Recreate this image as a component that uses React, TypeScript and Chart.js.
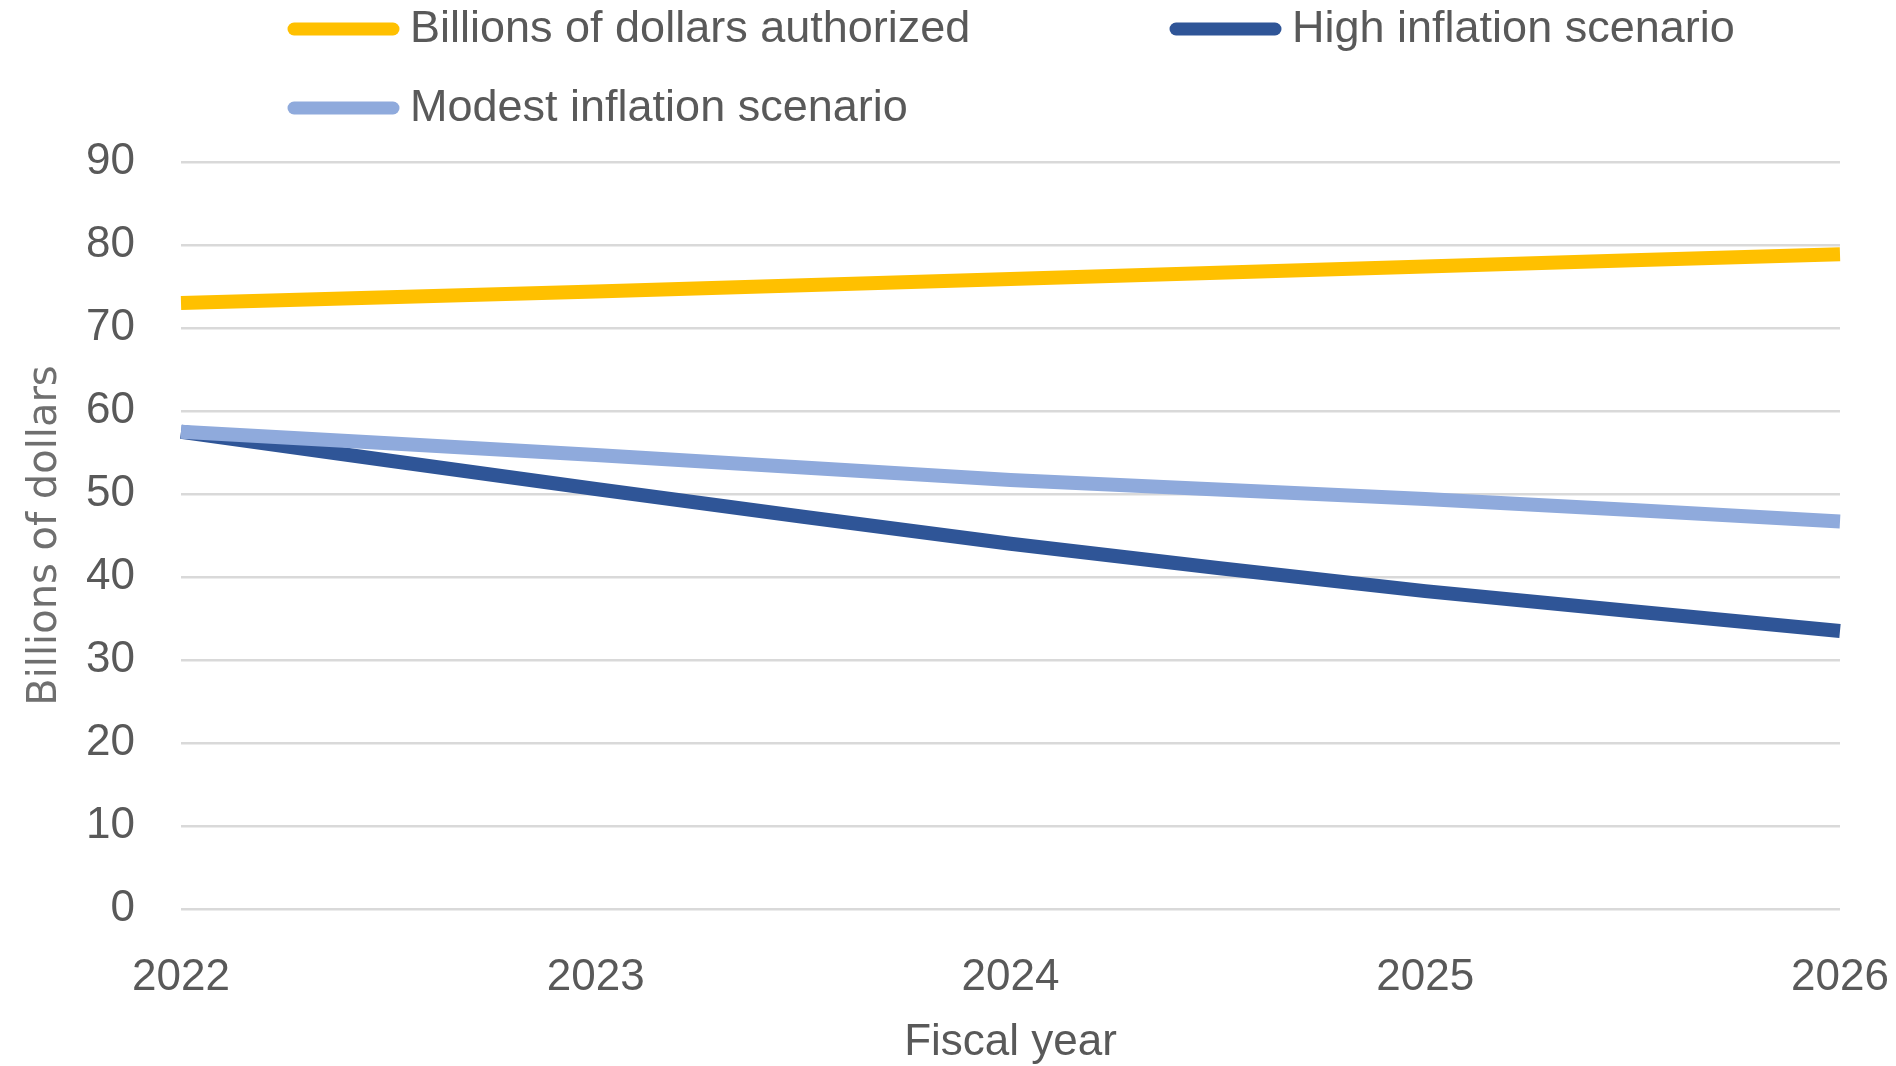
import React, { useEffect, useRef } from "react";
import { Chart, registerables } from "chart.js";

Chart.register(...registerables);

// ---- data ----
const fiscalYears = ["2022", "2023", "2024", "2025", "2026"];
const authorizedBillions = [73.0, 74.4, 75.9, 77.4, 78.9];
const highInflationBillions = [57.5, 50.6, 44.0, 38.3, 33.5];
const modestInflationBillions = [57.5, 54.7, 51.7, 49.4, 46.7];
const seriesNames = [
  "Billions of dollars authorized",
  "High inflation scenario",
  "Modest inflation scenario",
];
const seriesColors = ["#FFC000", "#2F5597", "#8FAADC"];
const yAxisMin = 0;
const yAxisMax = 90;
const yAxisStep = 10;
const yAxisTitle = "Billions of dollars";
const xAxisTitle = "Fiscal year";

// ---- style / layout ----
const TEXT_COLOR = "#595959";
const GRID_COLOR = "#D9D9D9";
const MAIN_FONT = "'Liberation Sans', Arial, sans-serif";
const LEGEND_COLS = [288, 1170];
const LEGEND_ROWS = [29, 108];
const LEGEND_SWATCH = 111;
const LEGEND_GAP = 11;
const Y_AXIS_WIDTH = 181;
const X_AXIS_HEIGHT = 157;

const excelLegend = {
  id: "excelLegend",
  afterDraw(chart: any) {
    const ctx = chart.ctx;
    ctx.save();
    chart.data.datasets.forEach((ds: any, i: number) => {
      const col = i % 2;
      const row = Math.floor(i / 2);
      const x = LEGEND_COLS[col];
      const y = LEGEND_ROWS[row];
      ctx.strokeStyle = ds.borderColor;
      ctx.lineWidth = 13;
      ctx.lineCap = "round";
      ctx.beginPath();
      ctx.moveTo(x + 6, y);
      ctx.lineTo(x + LEGEND_SWATCH - 6, y);
      ctx.stroke();
      ctx.fillStyle = TEXT_COLOR;
      ctx.font = `45px ${MAIN_FONT}`;
      ctx.textBaseline = "middle";
      ctx.textAlign = "left";
      ctx.fillText(ds.label, x + LEGEND_SWATCH + LEGEND_GAP, y + 1);
    });
    ctx.restore();
  },
};

export default function App() {
  const canvasRef = useRef<HTMLCanvasElement | null>(null);

  useEffect(() => {
    if (!canvasRef.current) return;
    const mk = (i: number, data: number[], order: number) => ({
      label: seriesNames[i],
      data,
      borderColor: seriesColors[i],
      backgroundColor: seriesColors[i],
      borderWidth: 14,
      pointRadius: 0,
      tension: 0.2,
      fill: false,
      order,
    });
    const chart = new Chart(canvasRef.current, {
      type: "line",
      data: {
        labels: fiscalYears,
        datasets: [
          mk(0, authorizedBillions, 0),
          mk(1, highInflationBillions, 2),
          mk(2, modestInflationBillions, 1),
        ],
      },
      options: {
        animation: false,
        responsive: true,
        maintainAspectRatio: false,
        layout: { padding: { top: 162, right: 56, bottom: 0, left: 0 } },
        plugins: {
          legend: { display: false },
          tooltip: { enabled: false },
        },
        scales: {
          x: {
            grid: { display: false, drawTicks: false },
            border: { display: false },
            ticks: {
              color: TEXT_COLOR,
              font: { family: MAIN_FONT, size: 44 },
              padding: 42,
              maxRotation: 0,
            },
            title: {
              display: true,
              text: xAxisTitle,
              color: TEXT_COLOR,
              font: { family: MAIN_FONT, size: 44 },
              padding: { top: 10, bottom: -3 },
            },
            afterFit: (scale: any) => {
              scale.height = X_AXIS_HEIGHT;
              scale.paddingLeft = 0;
              scale.paddingRight = 0;
            },
          },
          y: {
            min: yAxisMin,
            max: yAxisMax,
            grid: { color: GRID_COLOR, lineWidth: 2.5, drawTicks: false },
            border: { display: false },
            ticks: {
              stepSize: yAxisStep,
              color: TEXT_COLOR,
              font: { family: MAIN_FONT, size: 44 },
              padding: 46,
            },
            title: {
              display: true,
              text: yAxisTitle,
              color: "#6f6f6f",
              font: { family: "'DejaVu Sans', Verdana, sans-serif", size: 40 },
              padding: { top: 22, bottom: 5 },
            },
            afterFit: (scale: any) => {
              scale.width = Y_AXIS_WIDTH;
            },
          },
        },
      },
      plugins: [excelLegend],
    });
    return () => chart.destroy();
  }, []);

  return (
    <div
      style={{
        position: "fixed",
        left: 0,
        top: 0,
        width: 1896,
        height: 1066,
        background: "#ffffff",
      }}
    >
      <canvas ref={canvasRef} />
    </div>
  );
}
